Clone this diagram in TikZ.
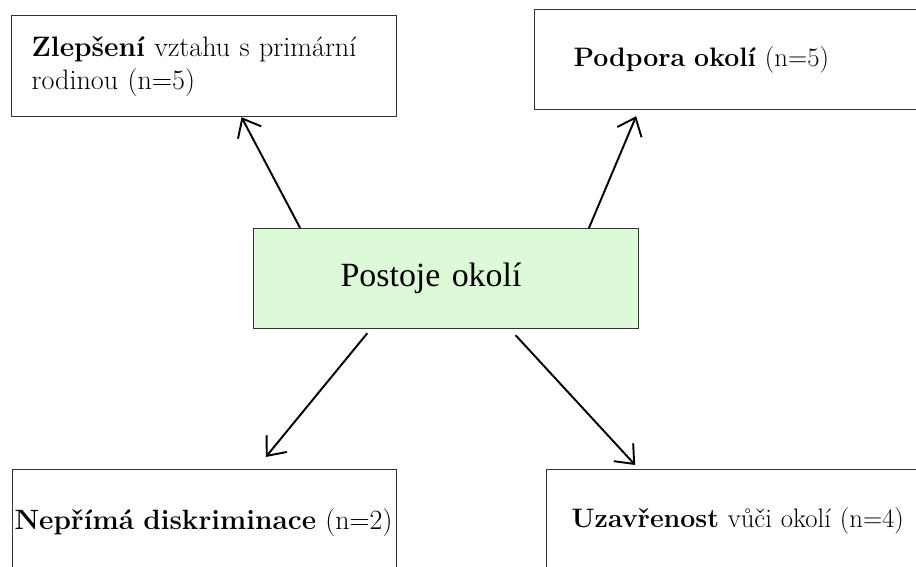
\documentclass[tikz,border=0pt]{standalone}
\usepackage{fontspec}
\newfontfamily\timesfont{Liberation Serif}
\usetikzlibrary{calc,arrows.meta}
\definecolor{postojegreen}{RGB}{221,250,216}
\begin{document}
\begin{tikzpicture}[x=0.02cm, y=-0.02cm,
    box/.style={draw=black!80, line width=0.7pt, rectangle, anchor=north west,
      align=left, inner ysep=0pt},
    arr/.style={->, >={Straight Barb[length=9pt,width=15pt]}, line width=1.1pt}]
  \useasboundingbox (0,0) rectangle (916,567);
  \clip (0,0) rectangle (916,567);
  \begin{scope}
    \node[box, minimum height=2.02cm, text width=6.9cm, inner xsep=0.4cm,
    font=\fontsize{16}{18.8}\selectfont] (zlepseni) at (11,15)
    {\textbf{Zlepšení} vztahu s primární rodinou (n=5)};
    \node[box, minimum height=2cm, text width=6.46cm, inner xsep=0.78cm,
    font=\fontsize{15.2}{18.8}\selectfont] (podpora) at (534,9)
    {\textbf{Podpora okolí} (n=5)};
    \node[box, fill=postojegreen, minimum height=2cm, text width=4.22cm,
    inner xsep=1.74cm, font=\timesfont\fontsize{19.3}{23}\selectfont]
    (postoje) at (253,228) {Postoje okolí};
    \node[box, minimum height=2.12cm, text width=7.6cm, inner xsep=0.04cm,
    font=\fontsize{15.9}{19}\selectfont] (neprima) at (12,469)
    {\mbox{\textbf{Nepřímá diskriminace} (n=2)}};
    \node[box, minimum height=2.04cm, text width=6.7cm, inner xsep=0.5cm,
    font=\fontsize{15.2}{18.8}\selectfont] (uzavrenost) at (546,469)
    {\textbf{Uzavřenost} vůči okolí (n=4)};
  \end{scope}
  \begin{scope}[arr]
    \draw ($(postoje.north west)!0.122!(postoje.north east)$) to
    ($(zlepseni.south west)!0.597!(zlepseni.south east)$);
    \draw ($(postoje.north west)!0.870!(postoje.north east)$) to
    ($(podpora.south west)!0.254!(podpora.south east) + (0,6)$);
    \draw ($(postoje.south west)!0.296!(postoje.south east) + (0,4)$) to
    ($(neprima.north west)!0.659!(neprima.north east) + (0,-12)$);
    \draw ($(postoje.south west)!0.680!(postoje.south east) + (0,6)$) to
    ($(uzavrenost.north west)!0.231!(uzavrenost.north east) + (0,-4)$);
  \end{scope}
\end{tikzpicture}
\end{document}
